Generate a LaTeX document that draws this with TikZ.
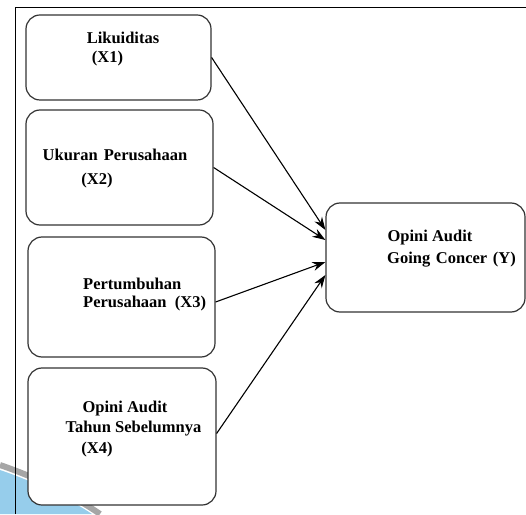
\documentclass[tikz,border=0pt]{standalone}
\usepackage{fontspec}
\setmainfont{Liberation Serif}
\usetikzlibrary{arrows.meta,positioning,calc}
\definecolor{framegray}{HTML}{333333}
\definecolor{wmblue}{HTML}{96CDEB}

\begin{document}
\begin{tikzpicture}[
    x=1pt, y=1pt,
    varbox/.style={rectangle, draw=framegray, line width=1.2pt, rounded corners=14pt},
    lbl/.style={font=\bfseries\fontsize{16.5}{18}\selectfont, inner sep=0pt},
    arr/.style={-{Stealth[length=13pt,width=9pt]}, line width=1.1pt},
]
    \useasboundingbox (0,0) rectangle (526,514);

    % Watermark
    \fill[wmblue] (0,44) .. controls (35,32) and (68,16) .. (92,0) -- (0,0) -- cycle;
    \draw[black!35, line width=6pt] (0,49) .. controls (38,36) and (74,18) .. (100,0);

    % Frame
    \draw[line width=1pt] (15,0) -- (15,506) -- (526,506);

    % Independent variables
    \node[varbox, minimum width=185pt, minimum height=85pt] (x1) at (118.5,456.5) {};
    \node[varbox, minimum width=187pt, minimum height=115pt] (x2) at (119.5,346.5) {};
    \node[varbox, minimum width=187pt, minimum height=120pt] (x3) at (121.5,217) {};
    \node[varbox, minimum width=188pt, minimum height=137pt, fill=white] (x4) at (122,77.5) {};

    % Dependent variable
    \node[varbox, minimum width=199pt, minimum height=109pt] (y) at (425.5,256.5) {};

    % Labels
    \node[lbl] (x1a) at (123,476) {Likuiditas};
    \node[lbl] (x1b) at (107.5,455) {(X1)};
    \node[lbl] (x2a) at (115,359) {Ukuran\hspace{2pt} Perusahaan};
    \node[lbl] (x2b) at (97,333) {(X2)};
    \node[lbl, anchor=west] (x3a) at (83,230) {Pertumbuhan};
    \node[lbl, anchor=west] (x3b) at (83,210) {Perusahaan\enspace (X3)};
    \node[lbl] (x4a) at (125,105) {Opini Audit};
    \node[lbl] (x4b) at (133.5,85) {Tahun Sebelumnya};
    \node[lbl] (x4c) at (97,64) {(X4)};
    \node[lbl] (ya) at (430,276) {Opini Audit};
    \node[lbl] (yb) at (451.5,254) {Going\hspace{1.5pt} Concer\hspace{1.5pt} (Y)};

    % Arrows
    \coordinate (in1) at ($(y.west)+(0,27.5)$);
    \coordinate (in2) at ($(y.west)+(0,17.5)$);
    \coordinate (in3) at ($(y.west)+(0,-4.5)$);
    \coordinate (in4) at ($(y.west)+(0,-17.5)$);
    \draw[arr] (x1.east) -- (in1);
    \draw[arr] (x2.east) -- (in2);
    \draw[arr] ([yshift=-5pt]x3.east) -- (in3);
    \draw[arr] ([yshift=3pt]x4.east) -- (in4);
\end{tikzpicture}
\end{document}
